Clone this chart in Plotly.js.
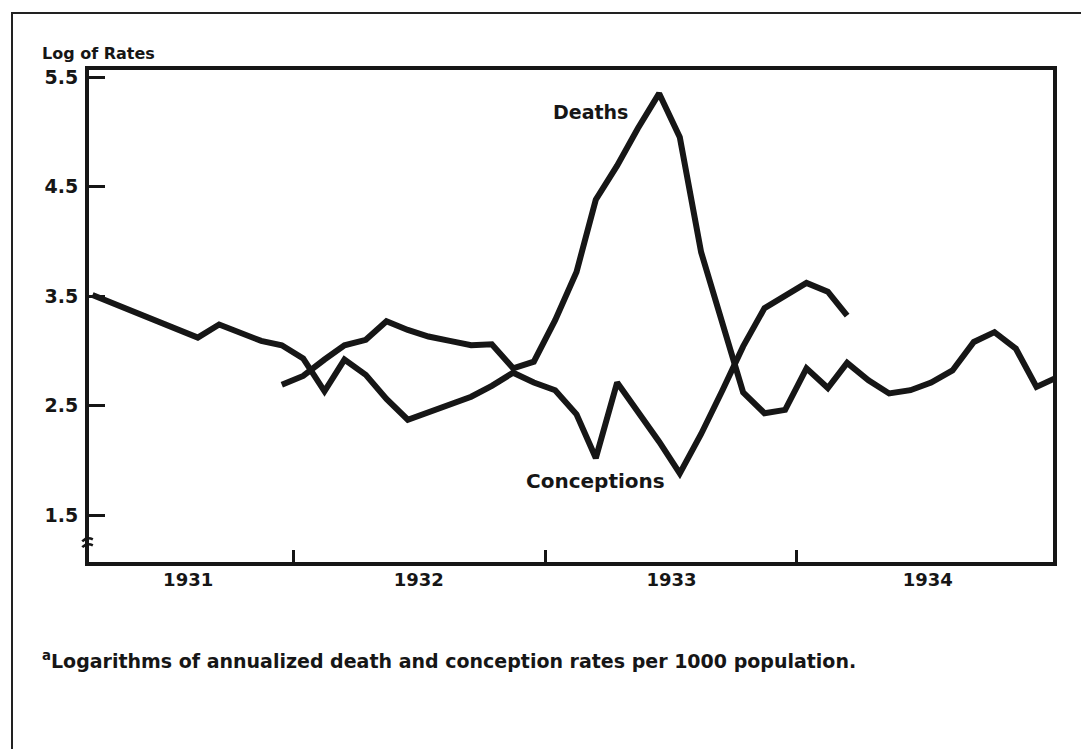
<!DOCTYPE html>
<html>
<head>
<meta charset="utf-8">
<script src="https://cdn.plot.ly/plotly-3.0.1.min.js"></script>
<style>
  html, body { margin: 0; padding: 0; background: #fff; }
  #wrap { position: relative; width: 1081px; height: 749px; overflow: hidden; }
  #frame { position: absolute; left: 11px; top: 12px; width: 1100px; height: 800px;
           border-top: 2px solid #222; border-left: 2px solid #222; pointer-events: none; z-index: 5; }
  #chart { position: absolute; left: 0; top: 0; width: 1081px; height: 749px; }
</style>
</head>
<body>
<div id="wrap"><div id="frame"></div><div id="chart"></div></div>
<script>
// Conceptions (log of annualized rate per 1000), monthly
const conceptionMonths = [
  '1931-03-15','1931-04-15','1931-05-15','1931-06-15','1931-07-15','1931-08-15',
  '1931-09-15','1931-10-15','1931-11-15','1931-12-15',
  '1932-01-15','1932-02-15','1932-03-15','1932-04-15','1932-05-15','1932-06-15',
  '1932-07-15','1932-08-15','1932-09-15','1932-10-15','1932-11-15','1932-12-15',
  '1933-01-15','1933-02-15','1933-03-15','1933-04-15','1933-05-15','1933-06-15',
  '1933-07-15','1933-08-15','1933-09-15','1933-10-15','1933-11-15','1933-12-15',
  '1934-01-15','1934-02-15','1934-03-15'
];
const conceptionValues = [
  3.51, 3.43, 3.35, 3.27, 3.19, 3.12,
  3.24, 3.16, 3.09, 3.05,
  2.93, 2.63, 2.92, 2.78, 2.56, 2.37,
  2.44, 2.50, 2.58, 2.68, 2.80, 2.71,
  2.64, 2.42, 2.02, 2.71, 2.45, 2.17,
  1.88, 2.24, 2.64, 3.04, 3.39, 3.51,
  3.62, 3.54, 3.32
];

// Deaths (log of annualized rate per 1000), monthly
const deathMonths = [
  '1931-12-15',
  '1932-01-15','1932-02-15','1932-03-15','1932-04-15','1932-05-15','1932-06-15',
  '1932-07-15','1932-08-15','1932-09-15','1932-10-15','1932-11-15','1932-12-15',
  '1933-01-15','1933-02-15','1933-03-15','1933-04-15','1933-05-15','1933-06-15',
  '1933-07-15','1933-08-15','1933-09-15','1933-10-15','1933-11-15','1933-12-15',
  '1934-01-15','1934-02-15','1934-03-15','1934-04-15','1934-05-15','1934-06-15',
  '1934-07-15','1934-08-15','1934-09-15','1934-10-15','1934-11-15','1934-12-15',
  '1935-01-15'
];
const deathValues = [
  2.69,
  2.77, 2.92, 3.05, 3.10, 3.27, 3.19,
  3.13, 3.09, 3.05, 3.06, 2.84, 2.90,
  3.28, 3.72, 4.38, 4.69, 5.03, 5.35,
  4.95, 3.90, 3.26, 2.62, 2.43, 2.46,
  2.84, 2.66, 2.89, 2.73, 2.61, 2.64,
  2.71, 2.82, 3.08, 3.17, 3.02, 2.67,
  2.76
];

// Axis labels
const yTickVals = [1.5, 2.5, 3.5, 4.5, 5.5];
const yTickText = ['1.5', '2.5', '3.5', '4.5', '5.5'];
const xLabelVals = ['1931-08-01', '1932-07-01', '1933-07-03', '1934-07-10'];
const xLabelText = ['1931', '1932', '1933', '1934'];
const yearBoundaries = ['1932-01-01', '1933-01-01', '1934-01-01'];

const INK = '#161616';
const FONT = '"DejaVu Sans", "Liberation Sans", Arial, sans-serif';

const traces = [
  { x: conceptionMonths, y: conceptionValues, type: 'scatter', mode: 'lines',
    name: 'Conceptions', line: { color: INK, width: 6, shape: 'linear' }, hoverinfo: 'x+y' },
  { x: deathMonths, y: deathValues, type: 'scatter', mode: 'lines',
    name: 'Deaths', line: { color: INK, width: 6, shape: 'linear' }, hoverinfo: 'x+y' }
];

const layout = {
  width: 1081, height: 749,
  paper_bgcolor: 'rgba(0,0,0,0)', plot_bgcolor: '#ffffff',
  margin: { l: 89, r: 28, t: 70, b: 187 },
  showlegend: false,
  font: { family: FONT, color: INK },
  title: {
    text: '<b>Log of Rates</b>', font: { family: FONT, size: 16, color: INK },
    x: 42 / 1081, xanchor: 'left', xref: 'container',
    y: 1 - 53 / 749, yanchor: 'middle', yref: 'container'
  },
  xaxis: {
    type: 'date', range: ['1931-03-10', '1935-01-08'],
    tickmode: 'array', tickvals: xLabelVals, ticktext: xLabelText,
    ticks: '', showgrid: false, zeroline: false,
    showline: true, linecolor: INK, linewidth: 4, mirror: true,
    tickfont: { family: FONT, size: 18, color: INK, weight: 'bold' },
    ticklabelstandoff: -2,
    minor: { tickmode: 'array', tickvals: yearBoundaries, ticks: 'inside',
             ticklen: 12, tickwidth: 3, tickcolor: INK, showgrid: false }
  },
  yaxis: {
    range: [1.071, 5.564],
    tickmode: 'array', tickvals: yTickVals, ticktext: yTickText,
    ticks: 'inside', ticklen: 16, tickwidth: 3, tickcolor: INK,
    showgrid: false, zeroline: false,
    showline: true, linecolor: INK, linewidth: 4, mirror: true,
    tickfont: { family: FONT, size: 19, color: INK, weight: 'bold' },
    ticklabelstandoff: 3
  },
  annotations: [
    { x: '1933-03-08', y: 5.18, xref: 'x', yref: 'y', text: '<b>Deaths</b>',
      showarrow: false, font: { family: FONT, size: 19, color: INK } },
    { x: '1933-03-14', y: 1.81, xref: 'x', yref: 'y', text: '<b>Conceptions</b>',
      showarrow: false, font: { family: FONT, size: 20, color: INK } },
    { x: -0.051, y: -0.199, xref: 'paper', yref: 'paper', xanchor: 'left', yanchor: 'middle',
      text: '<b><sup>a</sup>Logarithms of annualized death and conception rates per 1000 population.</b>',
      showarrow: false, font: { family: FONT, size: 19, color: INK } }
  ],
  shapes: [
    { type: 'path', xref: 'paper', yref: 'paper',
      path: 'M -0.007,0.030 Q -0.002,0.040 0.004,0.034 M -0.007,0.042 Q -0.002,0.052 0.004,0.046',
      line: { color: INK, width: 2.5 } }
  ]
};

Plotly.newPlot('chart', traces, layout, { displayModeBar: false, staticPlot: true });
</script>
</body>
</html>
